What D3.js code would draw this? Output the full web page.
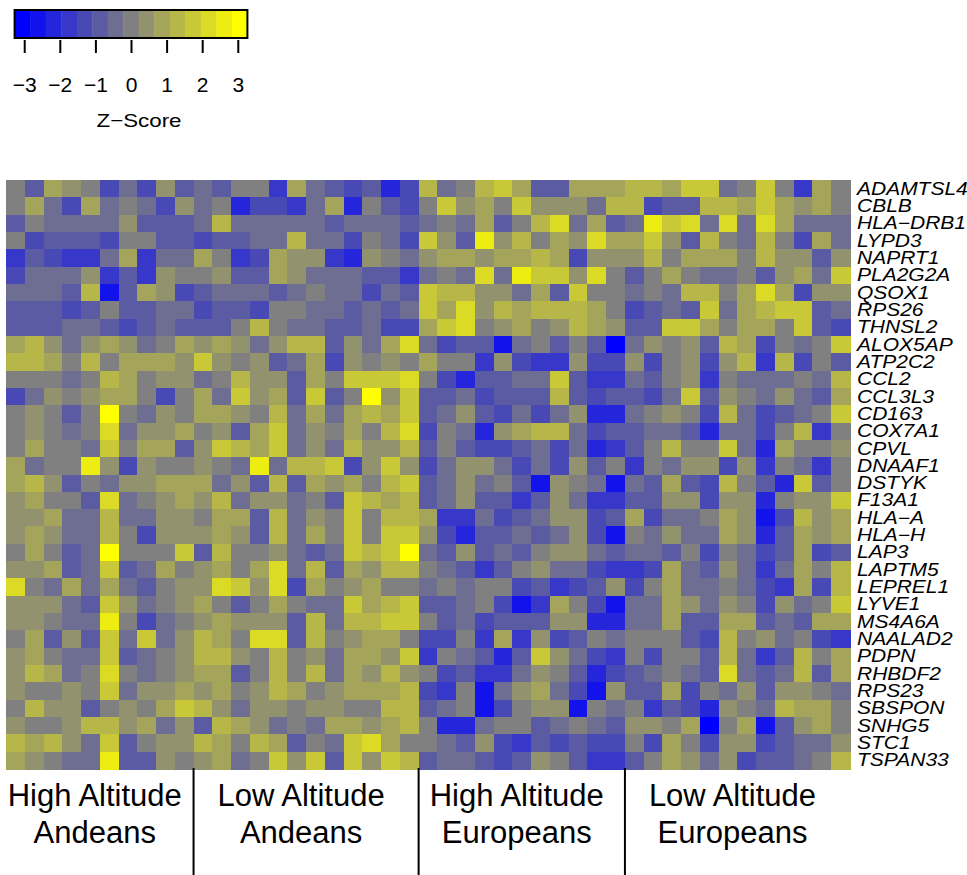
<!DOCTYPE html>
<html>
<head>
<meta charset="utf-8">
<script src="https://cdn.jsdelivr.net/npm/d3@7"></script>
<style>
  body { margin: 0; background: #fff; }
  svg text { font-family: "Liberation Sans", Arial, Helvetica, sans-serif; }
</style>
</head>
<body>
<div id="chart"></div>
<script>
const width = 967, height = 875;

// genes (rows), top to bottom
const genes = ["ADAMTSL4","CBLB","HLA−DRB1","LYPD3","NAPRT1","PLA2G2A","QSOX1","RPS26","THNSL2",
  "ALOX5AP","ATP2C2","CCL2","CCL3L3","CD163","COX7A1","CPVL","DNAAF1","DSTYK","F13A1","HLA−A",
  "HLA−H","LAP3","LAPTM5","LEPREL1","LYVE1","MS4A6A","NAALAD2","PDPN","RHBDF2","RPS23","SBSPON",
  "SNHG5","STC1","TSPAN33"];

// sample groups (columns, left to right)
const groupNames = [["High Altitude","Andeans"],["Low Altitude","Andeans"],["High Altitude","Europeans"],["Low Altitude","Europeans"]];
const groupSizes = [10, 12, 11, 12];

// colour key
const keyTicks = [-3, -2, -1, 0, 1, 2, 3];
const keyRange = 3.27;   // z-score at the edges of the key
const keySteps = 15;

// z-score, as colour-key step (-7 .. 7), one row per gene, 45 samples
const zSteps = [
  [0,-2,2,1,0,-3,-1,-3,1,-2,-1,-2,0,0,-4,2,-1,-2,-3,-2,-5,-3,3,-1,0,3,4,2,-2,-2,2,2,2,3,3,2,4,4,-1,0,4,0,-4,2,0],
  [0,2,-1,-3,2,-1,0,-1,-3,1,-1,0,-5,-3,-3,-4,-1,2,-5,0,-2,-3,0,4,1,2,0,4,1,1,1,-1,3,3,-3,-2,-2,3,3,2,4,2,1,2,0],
  [-2,0,-1,-1,-1,-1,1,-2,-2,-2,-1,3,-1,-1,-1,-1,-1,-2,-1,-1,-1,-2,-1,0,-1,2,-2,0,3,5,-1,2,-2,-1,6,4,5,-1,5,-1,5,2,-1,-1,-1],
  [0,-3,-2,-2,-2,-3,0,0,-2,-2,-3,-2,-2,-1,-1,3,-1,-1,-3,0,-1,-3,4,1,-2,6,1,3,0,2,1,5,2,2,4,1,-2,3,0,-1,3,0,-3,2,-1],
  [-4,-2,-3,-4,-4,-1,2,-4,-1,-1,2,0,-4,-3,2,1,1,-4,-5,1,0,-1,1,2,2,1,2,2,3,2,-3,1,1,1,3,0,2,2,2,0,3,1,1,-2,1],
  [-3,-1,-1,-1,1,-4,-2,-4,1,0,0,1,-2,-2,2,1,-1,-1,-1,-2,-2,-4,-1,0,-1,5,-1,6,4,4,1,5,0,-2,0,2,0,-1,-1,0,-2,1,2,-1,4],
  [-1,-1,-1,-2,3,-6,-2,2,1,-3,-2,-1,-1,-1,-2,-1,0,-1,-1,-3,-1,-2,4,3,3,1,1,-1,2,-2,4,0,0,-1,0,-1,3,3,0,2,5,2,-3,1,1],
  [-2,-2,-2,-3,-2,0,-2,-2,-1,-1,-3,-2,-2,-3,0,0,-1,-1,-2,-1,-2,-1,4,2,5,1,3,2,3,3,3,2,0,-3,-2,-1,-2,4,-1,2,3,4,4,-2,-1],
  [-2,-2,-2,-1,-1,-2,-3,-2,-1,-2,-2,-2,0,3,0,-1,-1,-2,-2,-1,-3,-3,2,4,5,0,1,2,0,1,3,2,1,-2,-2,4,4,2,0,2,2,0,4,-2,-3],
  [2,3,1,-1,1,2,1,-1,0,2,1,2,1,-1,1,3,3,-2,1,-1,2,5,-1,-3,-2,-2,-6,-1,0,-2,0,-2,-7,-1,1,0,1,-2,3,2,-3,0,-1,0,4],
  [3,3,2,0,3,0,2,2,2,1,4,1,0,1,-2,-1,2,-3,1,0,1,0,2,0,0,-4,1,-3,-4,-4,1,-3,-3,1,-3,0,1,-3,1,3,-4,3,-3,0,-2],
  [0,0,0,-1,0,3,2,0,1,1,-1,0,3,1,1,-2,2,0,4,4,4,5,0,-3,-5,-2,-2,-1,-1,4,-2,-4,-4,-1,-2,0,1,-4,0,-1,-1,-1,0,-1,3],
  [-3,-1,1,0,1,2,2,0,-3,0,2,-1,4,1,2,-2,4,-2,0,7,1,4,-2,-2,-1,-3,-2,-2,-2,3,-2,-3,-2,-2,-3,-1,4,-2,1,0,-1,1,-1,-2,2],
  [0,1,0,-2,0,7,0,-1,1,0,2,2,1,0,3,-1,2,-1,2,3,2,4,-2,-1,1,-2,-3,-1,-3,-1,1,-5,-5,-1,0,1,0,-3,3,-1,-3,-2,-1,0,4],
  [0,1,0,-1,0,5,-1,1,1,2,0,1,-2,2,4,-1,1,0,2,0,3,5,-3,0,-1,-5,1,2,3,3,-1,-3,-2,-2,-1,-1,-2,-5,-1,-1,-3,0,3,-4,0],
  [0,2,0,0,-1,4,0,2,2,-2,1,4,3,2,4,-1,1,-1,3,1,1,3,-2,0,-2,-3,-3,-2,-1,-3,-1,-5,-4,-2,0,3,0,0,4,-1,-5,2,0,0,1],
  [2,-1,0,0,6,1,-3,1,0,0,1,0,-1,6,-1,3,3,4,-3,1,4,1,-3,-1,1,1,-1,-3,-1,-3,1,-2,0,-4,0,-1,1,1,-3,1,-4,0,-1,-4,0],
  [2,3,1,-2,0,-1,1,1,2,2,2,-1,1,-2,3,-2,2,1,2,0,3,4,-2,-1,1,-1,0,-2,-6,1,0,-1,-6,-1,-2,2,-2,-3,3,0,-2,-5,4,-2,0],
  [1,2,0,0,-2,5,-1,0,1,2,1,3,-1,1,1,-1,0,-2,4,3,2,3,-2,-1,1,-2,-2,-4,-2,1,-1,-4,-4,-2,-2,1,1,-3,1,1,-5,0,1,1,4],
  [1,1,2,-1,-1,3,-1,-1,1,1,0,2,2,-2,3,-1,1,0,4,0,3,3,2,-4,-4,-1,-3,-2,-1,1,1,-3,-2,2,-3,-1,-1,0,2,1,-6,-3,3,1,2],
  [1,2,1,-1,-1,3,0,-3,1,1,1,2,1,-2,3,-1,2,0,4,0,4,4,1,-3,-5,-2,-2,-1,-2,-1,1,-3,-6,0,-1,1,-1,-1,2,1,-5,-2,2,1,2],
  [0,2,0,-2,-1,7,0,0,0,4,-2,3,0,0,1,-1,-2,-1,4,3,4,7,-1,-2,1,-2,-1,-2,0,1,1,-1,-2,-1,-1,-2,0,-3,0,-1,-3,-2,2,-3,-2],
  [1,1,2,-2,-1,4,-2,-1,2,0,1,2,0,2,5,-1,3,-2,2,1,3,3,0,-1,-2,-4,-2,0,1,-1,-1,-3,-4,-4,-3,2,-1,-2,1,-1,-4,-1,2,0,3],
  [5,0,-1,2,-1,2,-1,-2,0,1,1,5,4,1,5,-3,2,0,1,2,0,0,-1,0,-1,0,0,-3,-2,-4,-3,-2,1,-3,0,2,-1,-1,0,-1,-3,-4,2,-3,3],
  [1,1,1,-1,-2,4,1,-1,0,1,2,0,-2,0,2,0,-1,-1,4,2,3,4,-2,-2,-1,0,-3,-6,-4,2,0,-3,-6,-1,-1,2,1,-1,1,0,-3,1,-1,0,4],
  [1,1,0,-1,-1,6,0,-3,-1,0,1,2,1,1,1,-2,3,-1,3,3,4,4,0,-2,-1,-3,-2,-2,-2,1,1,-5,-5,-1,-1,2,-2,-2,2,2,-2,-1,-2,2,2],
  [0,2,-2,1,-2,4,-1,4,-1,1,3,2,0,5,5,-2,3,0,1,2,2,0,-3,-3,0,-4,2,-4,1,-3,-2,0,-1,0,0,0,-2,-3,3,0,1,-1,0,-3,-4],
  [1,2,0,-1,-1,4,-2,-1,0,1,3,3,1,0,3,0,1,-1,2,2,1,4,-4,0,-1,-2,-5,-2,4,1,-1,-3,-4,0,-3,0,0,-2,3,-1,-4,-2,3,0,2],
  [1,3,2,-1,0,5,0,-1,0,1,2,2,-2,0,3,0,3,-1,2,1,3,1,0,-3,-2,-4,-4,-1,1,0,-2,-5,-3,-2,-1,0,-1,-2,5,-1,-2,-1,3,-2,2],
  [1,0,0,1,0,4,-1,1,1,2,1,2,0,1,3,2,0,1,2,2,2,3,-3,-4,0,-6,-1,1,2,-1,-3,-6,1,-2,-2,2,-3,0,-1,1,-2,1,1,0,-1],
  [0,3,1,1,-2,0,1,0,2,4,3,1,-1,1,1,0,1,1,0,0,3,3,-2,-1,0,-6,-3,0,1,1,-6,0,-1,0,-4,-2,-3,-5,1,0,-1,3,2,2,0],
  [1,0,0,1,3,3,1,2,-1,1,-2,3,2,1,-1,0,-1,2,2,1,2,3,0,-5,-5,-1,0,0,-2,-1,0,-1,-2,1,1,0,2,-7,0,2,-6,-2,1,2,0],
  [3,2,3,1,-1,4,-2,0,1,1,3,2,0,3,2,-2,0,-1,4,5,2,0,0,-1,-2,1,-3,-4,-2,-3,-2,-3,-3,0,-3,2,0,-3,1,1,-3,-2,-1,-1,1],
  [2,1,0,-1,-1,6,-2,-2,1,0,1,2,-1,0,4,1,4,-2,4,1,4,3,-2,-1,-1,-2,-3,-2,1,0,-2,-4,-4,-2,0,2,1,-1,1,-3,-2,-2,-1,0,3]
];

const nCols = d3.sum(groupSizes);

// 15 colours: blue -> grey -> yellow
const half = (keySteps - 1) / 2;
const palette = d3.range(keySteps).map(function(i) {
  return i <= half ? d3.interpolateRgb("#0000ff", "#808080")(i / half)
                   : d3.interpolateRgb("#808080", "#ffff00")((i - half) / half);
});
const stepWidth = 2 * keyRange / keySteps;
const color = d3.scaleQuantize().domain([-keyRange, keyRange]).range(palette);

const svg = d3.select("#chart").append("svg")
    .attr("width", width)
    .attr("height", height);

// ---- heatmap
const x = d3.scaleBand().domain(d3.range(nCols)).range([6, 850]);
const y = d3.scaleBand().domain(genes).range([180, 769]);

const cells = [];
zSteps.forEach(function(row, r) {
  row.forEach(function(s, c) { cells.push({gene: genes[r], col: c, z: s * stepWidth}); });
});

svg.append("g").selectAll("rect")
  .data(cells)
  .enter()
  .append("rect")
    .attr("x", d => x(d.col))
    .attr("y", d => y(d.gene))
    .attr("width", x.bandwidth() + 0.5)
    .attr("height", y.bandwidth() + 0.5)
    .attr("fill", d => color(d.z))
    .attr("shape-rendering", "crispEdges");

// gene labels
svg.append("g").selectAll("text")
  .data(genes)
  .enter()
  .append("text")
    .attr("transform", d => "translate(857," + (y(d) + y.bandwidth() / 2 + 6) + ") scale(1.2,1)")
    .style("font-style", "italic")
    .style("font-size", "17.5px")
    .style("fill", "#000")
    .text(d => d);

// ---- group labels and separators
const starts = d3.cumsum([0].concat(groupSizes)).slice(0, groupSizes.length);
const groupG = svg.append("g");
groupSizes.forEach(function(n, i) {
  const x0 = x(starts[i]), x1 = x(starts[i] + n - 1) + x.bandwidth();
  const cx = (x0 + x1) / 2 - 5;
  const t = groupG.append("text")
      .attr("text-anchor", "middle")
      .style("font-size", "31px")
      .style("fill", "#000");
  t.append("tspan").attr("x", cx).attr("y", 806).text(groupNames[i][0]);
  t.append("tspan").attr("x", cx).attr("y", 843).text(groupNames[i][1]);
  if (i > 0) {
    groupG.append("line")
      .attr("x1", x0).attr("x2", x0)
      .attr("y1", 768).attr("y2", height)
      .attr("stroke", "#000")
      .attr("stroke-width", 2);
  }
});

// ---- colour key
const kx = d3.scaleLinear().domain([-keyRange, keyRange]).range([14.6, 247.4]);
const key = svg.append("g");
key.selectAll("rect")
  .data(palette)
  .enter()
  .append("rect")
    .attr("x", (d, i) => kx(-keyRange + i * stepWidth))
    .attr("y", 10)
    .attr("width", kx(stepWidth) - kx(0) + 0.4)
    .attr("height", 28)
    .attr("fill", d => d);
key.append("rect")
  .attr("x", kx(-keyRange)).attr("y", 10)
  .attr("width", kx(keyRange) - kx(-keyRange)).attr("height", 28)
  .attr("fill", "none").attr("stroke", "#000").attr("stroke-width", 2);

const keyAxis = d3.axisBottom(kx)
  .tickValues(keyTicks)
  .tickSize(13)
  .tickPadding(24)
  .tickFormat(d => d < 0 ? "−" + Math.abs(d) : String(d));

const ka = key.append("g")
  .attr("transform", "translate(0,40)")
  .call(keyAxis);
ka.select(".domain").remove();
ka.selectAll(".tick line").attr("stroke", "#000").attr("stroke-width", 2);
ka.selectAll(".tick text")
  .style("font-family", "'Liberation Sans', Arial, sans-serif")
  .style("font-size", "21px")
  .style("fill", "#000");

key.append("text")
  .attr("x", 139)
  .attr("y", 127)
  .attr("text-anchor", "middle")
  .attr("textLength", 85)
  .attr("lengthAdjust", "spacingAndGlyphs")
  .style("font-size", "19px")
  .style("fill", "#000")
  .text("Z−Score");
</script>
</body>
</html>
